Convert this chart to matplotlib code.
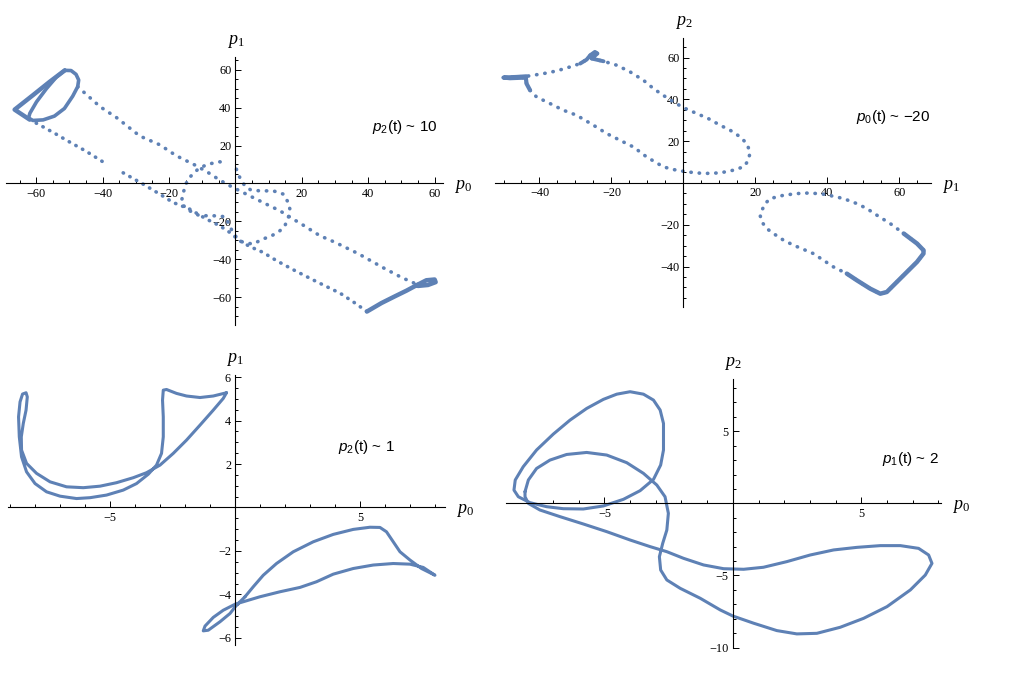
import matplotlib
matplotlib.use("Agg")
import matplotlib.pyplot as plt
from matplotlib.ticker import MultipleLocator, FixedLocator, FuncFormatter

plt.rcParams['mathtext.fontset'] = 'custom'
plt.rcParams['mathtext.rm'] = 'Liberation Serif'
plt.rcParams['mathtext.it'] = 'Liberation Serif:italic'
plt.rcParams['mathtext.sf'] = 'Liberation Sans:italic'
plt.rcParams['mathtext.tt'] = 'Liberation Sans'

BLUE = '#5E81B5'

# ---- panel 1 : p0 vs p1 (p2 ~ 10) ----
p1_corner_loop = [(-51.4, 59.6), (-49.5, 59.5), (-48.0, 57.5), (-47.2, 54.5), (-47.5, 51.0),
                  (-49.0, 46.0), (-51.5, 39.5), (-54.5, 35.5), (-57.9, 33.5), (-61.0, 33.2),
                  (-62.3, 34.5), (-61.9, 37.0), (-59.9, 43.0), (-56.9, 50.0), (-53.9, 56.1),
                  (-51.4, 59.6)]
p1_corner_edge = [(-62.0, 33.7), (-66.5, 38.9), (-61.0, 46.5), (-56.0, 53.5), (-51.4, 59.6)]
p1_upper_line = [(-47.5, 51.0), (-44.0, 45.5), (-40.8, 40.5), (-35.8, 34.7), (-28.8, 25.0),
                 (-22.8, 20.4), (-17.8, 14.6), (-12.3, 9.8), (-8.7, 6.3), (-4.7, 1.75),
                 (-1.7, -1.2), (1.3, -3.9), (5.3, -7.4), (9.3, -10.9), (13.4, -14.4),
                 (17.4, -18.8), (19.9, -21.4), (25.4, -27.5), (30.0, -31.0), (37.0, -37.0),
                 (44.6, -44.5), (50.0, -49.5), (54.7, -53.2)]
p1_lower_a = [(-62.0, 33.7), (-57.9, 29.8), (-54.0, 26.0), (-50.9, 22.8), (-45.0, 17.0),
              (-40.0, 11.5)]
p1_lower_b = [(-33.8, 5.6), (-27.8, -0.35), (-22.8, -5.6), (-18.8, -10.0), (-13.8, -13.5),
              (-8.7, -18.8), (-4.7, -22.3), (-1.7, -25.8), (1.3, -30.2), (4.4, -33.3),
              (8.3, -36.3), (12.4, -40.7), (18.0, -46.0), (24.5, -51.8), (31.6, -57.9),
              (36.0, -63.0), (39.6, -67.5)]
p1_right_end = [(39.6, -67.5), (44.0, -63.0), (48.0, -59.5), (51.5, -56.5), (54.7, -53.5),
                (57.5, -51.0), (60.0, -50.6), (60.3, -52.0), (58.0, -53.5), (55.0, -54.0),
                (54.7, -53.5)]
p1_blob = [(0.3, 7.5), (1.3, 3.2), (2.8, -1.2), (4.5, -3.3), (7.3, -3.9), (11.4, -3.9),
           (14.4, -5.6), (15.9, -10.0), (16.4, -13.5), (16.0, -17.5), (14.9, -22.3),
           (13.4, -24.9), (11.0, -27.5), (8.3, -29.3), (5.3, -31.9), (2.3, -31.1),
           (0.3, -28.4), (-1.0, -25.0), (-2.2, -20.5), (-3.2, -17.5), (-6.7, -17.0),
           (-10.8, -17.0), (-14.8, -13.5), (-16.3, -10.0), (-15.8, -5.6), (-15.0, -0.5),
           (-13.8, 3.2), (-11.0, 8.0), (-8.2, 10.2), (-4.7, 11.4), (-2.5, 10.7)]

# ---- panel 2 : p1 vs p2 (p0 ~ -20) ----
p2_upper = [(-50.0, 50.4), (-46.3, 50.7), (-43.6, 51.0), (-38.9, 52.3), (-35.2, 53.6),
            (-31.5, 55.5), (-28.7, 57.1), (-26.9, 59.0), (-25.9, 61.1), (-24.6, 62.7),
            (-23.9, 61.9), (-25.5, 59.5), (-22.2, 58.2), (-18.5, 56.3), (-14.8, 53.1),
            (-11.1, 49.1), (-8.3, 45.1), (-5.6, 41.9), (-2.8, 38.8), (0.0, 36.0),
            (3.7, 33.2), (6.9, 30.8), (10.2, 27.6), (13.0, 25.2), (15.8, 22.0),
            (17.6, 18.8), (18.5, 14.8), (18.1, 10.8), (16.7, 7.7), (13.9, 6.1),
            (10.2, 4.8), (5.6, 4.5), (0.9, 5.3), (-2.8, 6.4), (-5.6, 7.7),
            (-10.2, 12.4), (-13.9, 17.2), (-16.7, 19.6), (-21.3, 23.6), (-25.0, 27.6),
            (-29.7, 32.4), (-33.4, 34.8), (-37.1, 38.0), (-40.8, 41.1), (-42.6, 44.3),
            (-43.6, 47.5), (-43.8, 50.4), (-48.2, 50.1), (-50.0, 50.4)]
p2_upper_dense = [(-42.6, 44.3), (-43.6, 47.5), (-43.8, 50.4), (-48.2, 50.1), (-50.0, 50.4),
                  (-46.3, 50.7), (-43.6, 51.0)]
p2_spike = [(-28.7, 57.1), (-26.9, 59.0), (-25.9, 61.1), (-24.6, 62.7), (-23.9, 61.9),
            (-25.5, 59.5), (-22.2, 58.2)]
p2_lower = [(66.7, -32.2), (64.9, -29.0), (61.2, -24.2), (57.5, -19.5), (53.8, -15.5),
            (51.0, -12.3), (48.2, -9.9), (44.5, -7.5), (41.7, -6.4), (38.9, -5.4),
            (35.2, -4.8), (31.5, -5.1), (27.8, -5.9), (24.1, -7.5), (22.7, -9.9),
            (21.8, -13.1), (21.3, -15.5), (21.8, -18.7), (23.2, -21.9), (25.0, -24.2),
            (27.8, -27.4), (30.6, -29.8), (36.1, -33.8), (38.9, -37.0), (41.7, -40.2),
            (45.4, -43.4), (48.2, -46.6), (51.9, -50.6), (54.7, -53.0), (56.5, -52.2),
            (59.3, -47.4), (62.1, -42.6), (64.9, -37.8), (66.7, -33.8), (66.7, -32.2)]
p2_lower_dense = [(45.4, -43.4), (48.2, -46.6), (51.9, -50.6), (54.7, -53.0), (56.5, -52.2),
                  (59.3, -47.4), (62.1, -42.6), (64.9, -37.8), (66.7, -33.8), (66.7, -32.2),
                  (64.9, -29.0), (61.2, -24.2)]

# ---- panel 3 : p0 vs p1 (p2 ~ 1) ----
p3_left = [(-0.35, 5.28), (-0.88, 5.13), (-1.41, 5.06), (-1.95, 5.13), (-2.35, 5.25),
           (-2.75, 5.43), (-2.88, 5.40), (-2.91, 4.94), (-2.88, 4.17), (-2.88, 3.25),
           (-2.95, 2.49), (-3.15, 1.95), (-3.48, 1.53), (-3.95, 1.10), (-4.48, 0.80),
           (-5.15, 0.57), (-5.81, 0.45), (-6.35, 0.41), (-7.01, 0.52), (-7.55, 0.72),
           (-8.01, 1.10), (-8.35, 1.64), (-8.55, 2.33), (-8.64, 3.25), (-8.67, 4.17),
           (-8.61, 4.86), (-8.51, 5.22), (-8.37, 5.28), (-8.32, 5.09), (-8.37, 4.48),
           (-8.48, 3.87), (-8.56, 3.25), (-8.55, 2.64), (-8.35, 2.03), (-7.95, 1.57),
           (-7.41, 1.18), (-6.75, 0.95), (-6.08, 0.91), (-5.41, 0.98), (-4.75, 1.14),
           (-4.08, 1.37), (-3.55, 1.60), (-3.01, 1.95), (-2.48, 2.49), (-1.95, 3.10),
           (-1.41, 3.79), (-0.88, 4.48), (-0.48, 5.02), (-0.35, 5.28)]
p3_right = [(0.39, -4.11), (0.72, -3.65), (1.12, -3.12), (1.65, -2.58), (2.32, -2.04),
            (3.12, -1.58), (3.92, -1.24), (4.72, -1.01), (5.39, -0.91), (5.79, -0.92),
            (6.05, -1.12), (6.32, -1.58), (6.59, -2.04), (6.99, -2.42), (7.45, -2.81),
            (7.99, -3.12), (7.52, -2.76), (6.99, -2.61), (6.32, -2.58), (5.52, -2.65),
            (4.72, -2.81), (3.92, -3.07), (3.25, -3.42), (2.59, -3.68), (1.79, -3.88),
            (0.99, -4.11), (0.32, -4.34), (0.0, -4.45), (-0.48, -4.73), (-0.88, -5.06),
            (-1.21, -5.46), (-1.28, -5.68), (-1.08, -5.65), (-0.61, -5.26), (-0.21, -4.88),
            (0.0, -4.57), (0.19, -4.34), (0.39, -4.11)]

# ---- panel 4 : p0 vs p2 (p1 ~ 2) ----
p4_upper = [(-2.70, 4.39), (-2.70, 5.54), (-2.83, 6.47), (-3.09, 7.16), (-3.48, 7.57),
            (-4.00, 7.74), (-4.52, 7.57), (-5.04, 7.21), (-5.69, 6.58), (-6.34, 5.77),
            (-6.99, 4.80), (-7.64, 3.70), (-8.16, 2.54), (-8.47, 1.62), (-8.52, 0.92),
            (-8.35, 0.46), (-7.90, 0.05), (-7.25, -0.23), (-6.60, -0.37), (-5.82, -0.39),
            (-5.04, -0.18), (-4.26, 0.28), (-3.61, 0.88), (-3.09, 1.66), (-2.81, 2.66),
            (-2.70, 3.70), (-2.70, 4.39)]
p4_main = [(-8.09, 0.81), (-7.96, 1.62), (-7.64, 2.42), (-7.12, 3.00), (-6.47, 3.39),
           (-5.69, 3.53), (-4.91, 3.35), (-4.13, 2.82), (-3.48, 2.08), (-2.96, 1.27),
           (-2.64, 0.46), (-2.51, -0.69), (-2.57, -1.85), (-2.73, -2.77), (-2.86, -3.70),
           (-2.81, -4.62), (-2.57, -5.31), (-2.05, -5.89), (-1.27, -6.58), (-0.49, -7.39),
           (0.0, -7.81), (0.81, -8.31), (1.71, -8.82), (2.49, -9.05), (3.27, -9.01),
           (4.18, -8.59), (5.09, -7.97), (6.00, -7.16), (6.91, -6.00), (7.49, -4.97),
           (7.75, -4.16), (7.62, -3.58), (7.23, -3.12), (6.52, -2.93), (5.74, -2.93),
           (4.83, -3.05), (3.92, -3.23), (3.01, -3.58), (2.10, -4.04), (1.19, -4.43),
           (0.42, -4.57), (-0.36, -4.53), (-1.14, -4.27), (-1.92, -3.81), (-2.57, -3.35),
           (-3.22, -3.00), (-4.00, -2.54), (-4.91, -1.96), (-5.82, -1.43), (-6.73, -0.92),
           (-7.51, -0.46), (-7.96, 0.0), (-8.09, 0.46), (-8.09, 0.81)]


def solid(ax, pts, lw):
    ax.plot([p[0] for p in pts], [p[1] for p in pts], color=BLUE, lw=lw,
            solid_capstyle='round', solid_joinstyle='round')


def dotted(ax, pts, lw=2.6, gap=1.8):
    ax.plot([p[0] for p in pts], [p[1] for p in pts], color=BLUE, lw=lw,
            linestyle=(0, (0.1, gap)), dash_capstyle='round')


def minus_fmt(v, pos):
    return ('%g' % v).replace('-', '\u2212')


def setup(ax, xlim, ylim, xmajor, ymajor, xminor, yminor, xlab, ylab):
    ax.set_xlim(xlim)
    ax.set_ylim(ylim)
    ax.patch.set_visible(False)
    ax.spines['top'].set_visible(False)
    ax.spines['right'].set_visible(False)
    ax.spines['left'].set_position(('data', 0))
    ax.spines['bottom'].set_position(('data', 0))
    ax.spines['left'].set_linewidth(0.8)
    ax.spines['bottom'].set_linewidth(0.8)
    ax.xaxis.set_major_locator(FixedLocator(xmajor))
    ax.yaxis.set_major_locator(FixedLocator(ymajor))
    ax.xaxis.set_minor_locator(MultipleLocator(xminor))
    ax.yaxis.set_minor_locator(MultipleLocator(yminor))
    ax.xaxis.set_major_formatter(FuncFormatter(minus_fmt))
    ax.yaxis.set_major_formatter(FuncFormatter(minus_fmt))
    ax.tick_params(which='both', direction='in', width=0.7, labelsize=8.8, pad=3)
    ax.tick_params(which='major', length=4)
    ax.tick_params(which='minor', length=2.5)
    for lab in ax.get_xticklabels() + ax.get_yticklabels():
        lab.set_fontfamily('Liberation Serif')
    ax.annotate(ylab, xy=(0, 1), xycoords=('data', 'axes fraction'), xytext=(0, 16),
                textcoords='offset pixels', ha='center', va='center', fontsize=13)
    ax.annotate(xlab, xy=(1, 0), xycoords=('axes fraction', 'data'), xytext=(20, -3),
                textcoords='offset pixels', ha='center', va='center', fontsize=13)


fig = plt.figure(figsize=(10.12, 6.96), dpi=100)

ax1 = fig.add_axes([0.0059, 0.533, 0.4318, 0.385])
ax2 = fig.add_axes([0.489, 0.5585, 0.431, 0.3865])
ax3 = fig.add_axes([0.0082, 0.0733, 0.4315, 0.388])
ax4 = fig.add_axes([0.5, 0.0685, 0.4298, 0.3865])

# panel 1
dotted(ax1, p1_upper_line, gap=2.2)
dotted(ax1, p1_lower_a, gap=2.0)
dotted(ax1, p1_lower_b, gap=2.0)
dotted(ax1, p1_blob, gap=2.2)
solid(ax1, p1_corner_loop, 2.6)
solid(ax1, p1_corner_edge, 3.2)
solid(ax1, p1_right_end, 3.2)
setup(ax1, (-69.1, 62.5), (-74.6, 66.6), [-60, -40, -20, 20, 40, 60],
      [-60, -40, -20, 20, 40, 60], 5, 5, r'$p_0$', r'$p_1$')

# panel 2
dotted(ax2, p2_upper, gap=2.2)
dotted(ax2, p2_lower, gap=2.2)
solid(ax2, p2_upper_dense, 3.0)
solid(ax2, p2_spike, 2.8)
solid(ax2, p2_lower_dense, 3.2)
setup(ax2, (-52.4, 68.8), (-59.5, 69.2), [-40, -20, 20, 40, 60],
      [-40, -20, 20, 40, 60], 5, 5, r'$p_1$', r'$p_2$')

# panel 3
solid(ax3, p3_left, 2.2)
solid(ax3, p3_right, 2.2)
setup(ax3, (-9.08, 8.39), (-6.33, 6.1), [-5, 5], [-6, -4, -2, 2, 4, 6],
      1, 0.5, r'$p_0$', r'$p_1$')

# panel 4
solid(ax4, p4_upper, 2.2)
solid(ax4, p4_main, 2.2)
setup(ax4, (-8.83, 8.1), (-10.05, 8.6), [-5, 5], [-10, -5, 5],
      1, 1, r'$p_0$', r'$p_2$')

# annotations
fig.text(0.432, 0.818, r'$\mathsf{p}_{\mathtt{2}}$(t) ~ 10', ha='right', va='center',
         fontsize=11, family='Liberation Sans')
fig.text(0.919, 0.832, r'$\mathsf{p}_{\mathtt{0}}$(t) ~ ' + '\u221220', ha='right', va='center',
         fontsize=11, family='Liberation Sans')
fig.text(0.390, 0.358, r'$\mathsf{p}_{\mathtt{2}}$(t) ~ 1', ha='right', va='center',
         fontsize=11, family='Liberation Sans')
fig.text(0.928, 0.340, r'$\mathsf{p}_{\mathtt{1}}$(t) ~ 2', ha='right', va='center',
         fontsize=11, family='Liberation Sans')

fig.savefig('out.png', dpi=100)
